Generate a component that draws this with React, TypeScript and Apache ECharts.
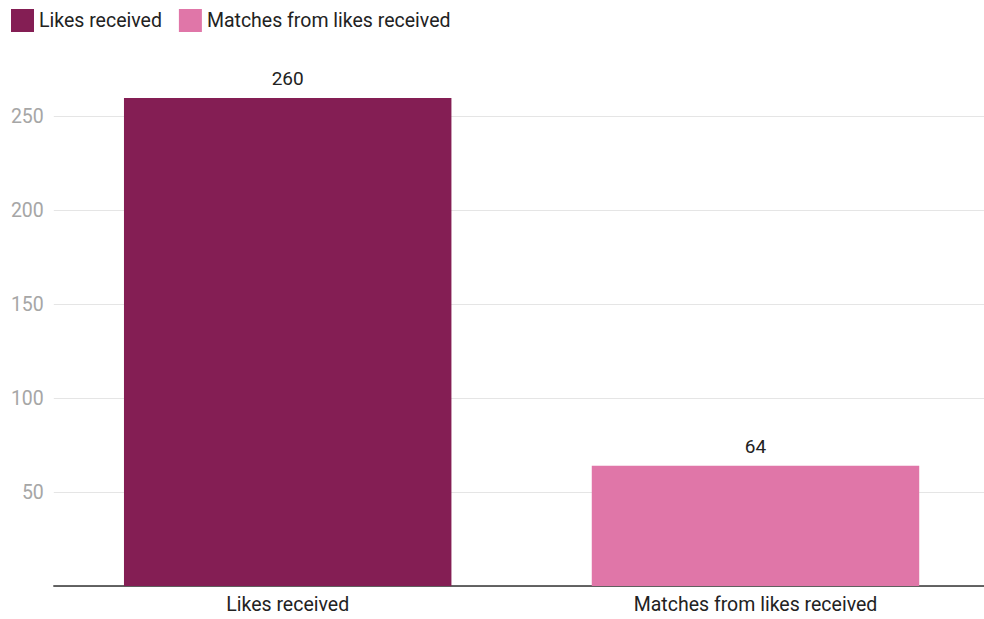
import React, { useEffect, useRef } from "react";
import * as echarts from "echarts";

const categories = ["Likes received", "Matches from likes received"];
const seriesNames = ["Likes received", "Matches from likes received"];
const likesValues: (number | string)[] = [260, "-"];
const matchesValues: (number | string)[] = ["-", 64];
const colors = ["#841E54", "#E076A8"];
const yTicks = { min: 0, max: 250, interval: 50 };

export default function App() {
  const ref = useRef<HTMLDivElement>(null);
  useEffect(() => {
    if (!ref.current) return;
    const chart = echarts.init(ref.current, null, { renderer: "svg" });
    const font = "Roboto, 'Noto Sans', sans-serif";
    const mkSeries = (name: string, data: (number | string)[], color: string) => ({
      name,
      type: "bar",
      stack: "all",
      data,
      clip: false,
      barCategoryGap: "30%",
      itemStyle: { color },
      label: {
        show: true,
        position: "top",
        distance: 10,
        color: "#222",
        fontSize: 19,
        fontFamily: font,
      },
    });
    chart.setOption({
      animation: false,
      backgroundColor: "#fff",
      textStyle: { fontFamily: font },
      legend: {
        left: 11,
        top: 9,
        padding: 0,
        itemWidth: 23,
        itemHeight: 23,
        itemGap: 17,
        icon: "rect",
        data: seriesNames,
        textStyle: { fontSize: 19.5, color: "#222", fontFamily: font },
      },
      grid: {
        left: 53.8,
        right: -5.4,
        top: 116.7,
        bottom: 33,
        containLabel: false,
        outerBoundsMode: "none",
      },
      xAxis: {
        type: "category",
        data: categories,
        axisLine: { show: true, lineStyle: { color: "#333", width: 1.5 } },
        axisTick: { show: false },
        axisLabel: { color: "#222", fontSize: 19.5, margin: 8, fontFamily: font },
        splitLine: { show: false },
      },
      yAxis: {
        type: "value",
        min: yTicks.min,
        max: yTicks.max,
        interval: yTicks.interval,
        axisLine: { show: false },
        axisTick: { show: false },
        axisLabel: {
          color: "#a6a6a6",
          fontSize: 19.5,
          margin: 10,
          showMinLabel: false,
          fontFamily: font,
        },
        splitLine: { show: true, lineStyle: { color: "#e5e5e5", width: 1 } },
      },
      series: [
        mkSeries(seriesNames[0], likesValues, colors[0]),
        mkSeries(seriesNames[1], matchesValues, colors[1]),
      ],
    });
    return () => chart.dispose();
  }, []);
  return (
    <div
      ref={ref}
      style={{ position: "fixed", left: 0, top: 0, width: 984, height: 619 }}
    />
  );
}
